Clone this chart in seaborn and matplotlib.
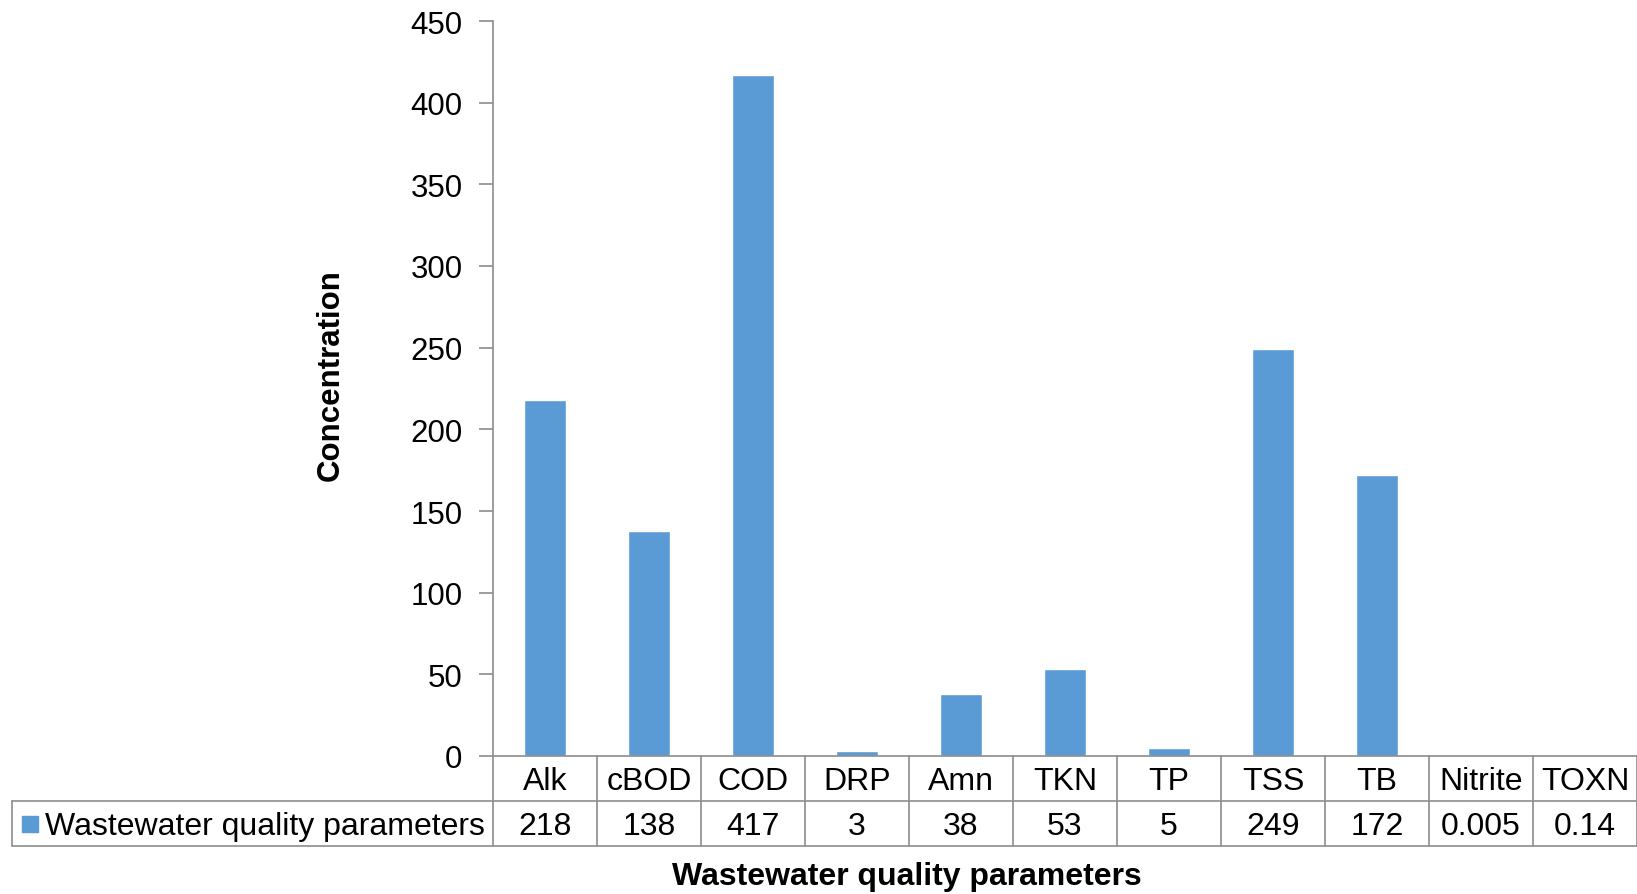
import matplotlib
matplotlib.use("Agg")
import matplotlib.pyplot as plt
import seaborn as sns
import pandas as pd
from matplotlib.patches import Rectangle
from matplotlib.transforms import blended_transform_factory

# Wastewater quality data
parameters = ["Alk", "cBOD", "COD", "DRP", "Amn", "TKN", "TP", "TSS", "TB", "Nitrite", "TOXN"]
concentrations = [218, 138, 417, 3, 38, 53, 5, 249, 172, 0.005, 0.14]
series_name = "Wastewater quality parameters"
y_ticks = [0, 50, 100, 150, 200, 250, 300, 350, 400, 450]

BAR_COLOR = "#5B9BD5"
LINE_COLOR = "#8C8C8C"
TABLE_FS = 23

sns.set_theme(style="white")
plt.rcParams["font.family"] = ["Liberation Sans", "DejaVu Sans"]
plt.rcParams["text.color"] = "black"

W, H = 1637, 895
fig = plt.figure(figsize=(W / 100, H / 100), dpi=100)
ax_left, ax_right, ax_top, ax_bottom = 493, 1637, 22, 757
ax = fig.add_axes([ax_left / W, (H - ax_bottom) / H,
                   (ax_right - ax_left) / W, (ax_bottom - ax_top) / H])

df = pd.DataFrame({"parameter": parameters, "concentration": concentrations})
sns.barplot(data=df, x="parameter", y="concentration", color=BAR_COLOR,
            saturation=1, width=0.4, ax=ax)

ax.set_xlim(-0.5, len(parameters) - 0.5)
ax.set_ylim(0, 450)
ax.set_yticks(y_ticks)
ax.set_yticklabels([str(t) for t in y_ticks], fontsize=22.5, color="black")
ax.tick_params(axis="y", direction="out", length=10, width=1.2, color=LINE_COLOR, pad=12, left=True)
ax.set_xticks([])
ax.set_xlabel("")
ax.set_ylabel("")
for side in ["top", "right"]:
    ax.spines[side].set_visible(False)
for side in ["left", "bottom"]:
    ax.spines[side].set_color(LINE_COLOR)
    ax.spines[side].set_linewidth(1.2)

ax.text(-0.142, 0.52, "Concentration", transform=ax.transAxes, rotation=90,
        ha="center", va="center", fontsize=22.5, fontweight="bold")

# Data table beneath the plot area
trans = blended_transform_factory(ax.transData, ax.transAxes)
row_h = 45 / (ax_bottom - ax_top)
text_drop = 2.5 / (ax_bottom - ax_top)
legend_x = (12.5 - ax_left) / (ax_right - ax_left)
n = len(parameters)

line_kw = dict(color=LINE_COLOR, lw=1.2, clip_on=False)
for i in range(n + 1):
    ax.plot([i - 0.5, i - 0.5], [0, -2 * row_h], transform=trans, **line_kw)
ax.plot([legend_x, 1], [-row_h, -row_h], transform=ax.transAxes, **line_kw)
ax.plot([legend_x, 1], [-2 * row_h, -2 * row_h], transform=ax.transAxes, **line_kw)
ax.plot([legend_x, legend_x], [-row_h, -2 * row_h], transform=ax.transAxes, **line_kw)

for i, (p, v) in enumerate(zip(parameters, concentrations)):
    ax.text(i, -0.5 * row_h - text_drop, p, transform=trans, ha="center", va="center",
            fontsize=TABLE_FS, clip_on=False)
    ax.text(i, -1.5 * row_h - text_drop, f"{v:g}", transform=trans, ha="center", va="center",
            fontsize=TABLE_FS, clip_on=False)

# Legend key inside the table
key_px = 16
key_x = (22 - ax_left) / (ax_right - ax_left)
key_w = key_px / (ax_right - ax_left)
key_h = key_px / (ax_bottom - ax_top)
ax.add_patch(Rectangle((key_x, -1.5 * row_h - key_h / 2), key_w, key_h,
                       transform=ax.transAxes, color=BAR_COLOR, clip_on=False))
ax.text((45 - ax_left) / (ax_right - ax_left), -1.5 * row_h - text_drop, series_name,
        transform=ax.transAxes, ha="left", va="center", fontsize=TABLE_FS, clip_on=False)

fig.text(907 / W, 1 - 877 / H, "Wastewater quality parameters", ha="center", va="center",
         fontsize=23, fontweight="bold")

fig.savefig("out.png", dpi=100)
